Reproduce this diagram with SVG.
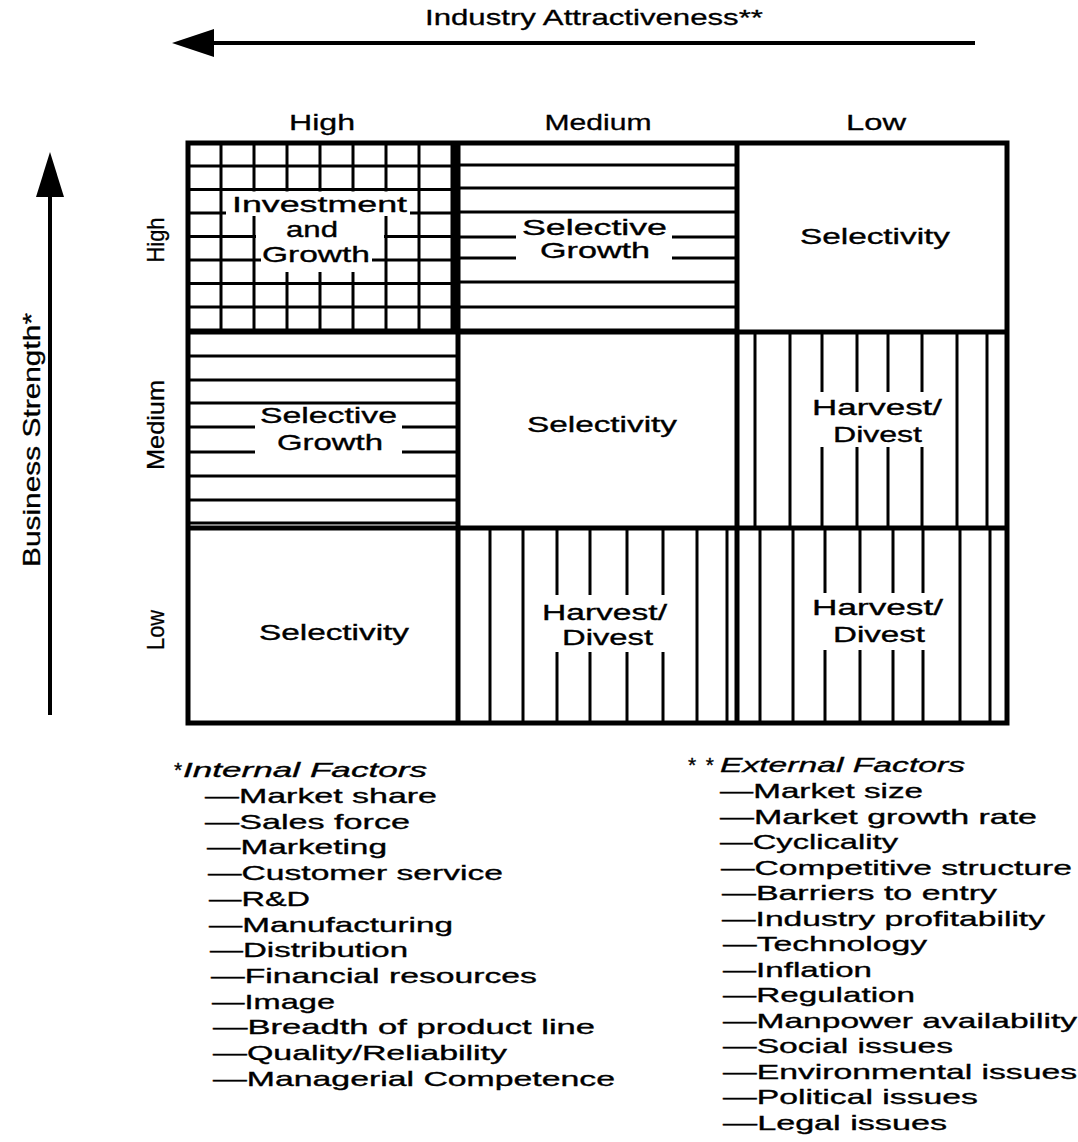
<svg xmlns="http://www.w3.org/2000/svg" width="1078" height="1142" viewBox="0 0 1078 1142">
<defs>
<style>
text{font-family:"Liberation Sans",Arial,Helvetica,sans-serif;fill:#000;}
.lbl{font-size:22px;text-anchor:middle;stroke:#000;stroke-width:0.35px;}
.hdr{font-size:22px;text-anchor:middle;stroke:#000;stroke-width:0.3px;}
.rot{font-size:24px;text-anchor:middle;stroke:#000;stroke-width:0.3px;}
.leg{font-size:21px;stroke:#000;stroke-width:0.35px;}
.it{font-style:italic;}
.pat{stroke:#000;stroke-width:3;fill:none;}
.border{stroke:#000;stroke-width:5;fill:none;}
.ko{fill:#fff;stroke:none;}
.axis{stroke:#000;stroke-width:4;fill:none;}
</style>
</defs>
<rect width="1078" height="1142" fill="#fff"/>

<g id="axes">
  <g id="industry-attractiveness-axis">
    <line class="axis" x1="208" y1="43" x2="975" y2="43"/>
    <polygon points="172,43 214,29 214,57" fill="#000"/>
    <text class="hdr" x="594" y="25" textLength="338" lengthAdjust="spacingAndGlyphs">Industry Attractiveness**</text>
  </g>
  <g id="business-strength-axis">
    <line class="axis" x1="50" y1="192" x2="50" y2="715"/>
    <polygon points="50,152 36,197 64,197" fill="#000"/>
    <text class="rot" transform="translate(40,440) rotate(-90)" textLength="254" lengthAdjust="spacingAndGlyphs">Business Strength*</text>
  </g>
  <text class="hdr" x="322" y="130" textLength="66" lengthAdjust="spacingAndGlyphs">High</text>
  <text class="hdr" x="598" y="130" textLength="107" lengthAdjust="spacingAndGlyphs">Medium</text>
  <text class="hdr" x="876" y="130" textLength="60" lengthAdjust="spacingAndGlyphs">Low</text>
  <text class="rot" transform="translate(164,240) rotate(-90)" textLength="45" lengthAdjust="spacingAndGlyphs">High</text>
  <text class="rot" transform="translate(164,425) rotate(-90)" textLength="90" lengthAdjust="spacingAndGlyphs">Medium</text>
  <text class="rot" transform="translate(164,630) rotate(-90)" textLength="40" lengthAdjust="spacingAndGlyphs">Low</text>
</g>

<g id="cell-high-high">
  <path class="pat" d="M221,143V332M254,143V332M287,143V332M320,143V332M353,143V332M386,143V332M419,143V332M452,143V332M188,166H458M188,189.5H458M188,213H458M188,236.5H458M188,260H458M188,283.5H458M188,307H458M188,330H458"/>
  <rect class="ko" x="226" y="191.5" width="184" height="24.5"/>
  <rect class="ko" x="256" y="216" width="128" height="32"/>
  <rect class="ko" x="261" y="248" width="111" height="24"/>
  <text class="lbl" x="319.5" y="212" textLength="175" lengthAdjust="spacingAndGlyphs">Investment</text>
  <text class="lbl" x="312" y="237" textLength="52" lengthAdjust="spacingAndGlyphs">and</text>
  <text class="lbl" x="316" y="262" textLength="108" lengthAdjust="spacingAndGlyphs">Growth</text>
</g>

<g id="cell-medium-high">
  <path class="pat" d="M458,165H737M458,188H737M458,212H737M458,237H737M458,258H737M458,282H737M458,307H737M458,330H737"/>
  <rect class="ko" x="516" y="215" width="156" height="47"/>
  <text class="lbl" x="594.5" y="235" textLength="145" lengthAdjust="spacingAndGlyphs">Selective</text>
  <text class="lbl" x="595" y="258" textLength="110" lengthAdjust="spacingAndGlyphs">Growth</text>
</g>

<g id="cell-low-high">
  <text class="lbl" x="875" y="244" textLength="150" lengthAdjust="spacingAndGlyphs">Selectivity</text>
</g>

<g id="cell-high-medium">
  <path class="pat" d="M188,356H458M188,380H458M188,403H458M188,427H458M188,452H458M188,476H458M188,500H458M188,523H458"/>
  <rect class="ko" x="255" y="405" width="147" height="51"/>
  <text class="lbl" x="328.5" y="423" textLength="137" lengthAdjust="spacingAndGlyphs">Selective</text>
  <text class="lbl" x="330" y="450" textLength="106" lengthAdjust="spacingAndGlyphs">Growth</text>
</g>

<g id="cell-medium-medium">
  <text class="lbl" x="602" y="432" textLength="150" lengthAdjust="spacingAndGlyphs">Selectivity</text>
</g>

<g id="cell-low-medium">
  <path class="pat" d="M755,332V528M790,332V528M822,332V528M857,332V528M888,332V528M922,332V528M957,332V528M987,332V528"/>
  <rect class="ko" x="810" y="392" width="134" height="55"/>
  <text class="lbl" x="877" y="415" textLength="130" lengthAdjust="spacingAndGlyphs">Harvest/</text>
  <text class="lbl" x="877.5" y="442" textLength="89" lengthAdjust="spacingAndGlyphs">Divest</text>
</g>

<g id="cell-high-low">
  <text class="lbl" x="334" y="640" textLength="150" lengthAdjust="spacingAndGlyphs">Selectivity</text>
</g>

<g id="cell-medium-low">
  <path class="pat" d="M490,528V723M523,528V723M557,528V723M590,528V723M627,528V723M663,528V723M697,528V723M727,528V723"/>
  <rect class="ko" x="540" y="595" width="128" height="57"/>
  <text class="lbl" x="604.5" y="620" textLength="125" lengthAdjust="spacingAndGlyphs">Harvest/</text>
  <text class="lbl" x="607.5" y="645" textLength="91" lengthAdjust="spacingAndGlyphs">Divest</text>
</g>

<g id="cell-low-low">
  <path class="pat" d="M760,528V723M793,528V723M825,528V723M860,528V723M893,528V723M923,528V723M960,528V723M990,528V723"/>
  <rect class="ko" x="810" y="593" width="135" height="57"/>
  <text class="lbl" x="877.5" y="615" textLength="131" lengthAdjust="spacingAndGlyphs">Harvest/</text>
  <text class="lbl" x="879" y="642" textLength="92" lengthAdjust="spacingAndGlyphs">Divest</text>
</g>

<g id="grid-borders">
  <rect class="border" x="188" y="143" width="819" height="580"/>
  <line class="border" x1="458" y1="143" x2="458" y2="723"/>
  <line x1="456" y1="143" x2="456" y2="332" stroke="#000" stroke-width="7"/>
  <line class="border" x1="737" y1="143" x2="737" y2="723"/>
  <line class="border" x1="188" y1="332" x2="1007" y2="332"/>
  <line class="border" x1="188" y1="528" x2="1007" y2="528"/>
</g>

<g id="internal-factors">
  <text class="leg" y="777"><tspan x="174">*</tspan><tspan class="it" x="183" textLength="244" lengthAdjust="spacingAndGlyphs">Internal Factors</tspan></text>
  <text class="leg" x="205" y="803" textLength="232" lengthAdjust="spacingAndGlyphs">—Market share</text>
  <text class="leg" x="205" y="828.7" textLength="205" lengthAdjust="spacingAndGlyphs">—Sales force</text>
  <text class="leg" x="207" y="854.4" textLength="180" lengthAdjust="spacingAndGlyphs">—Marketing</text>
  <text class="leg" x="208" y="880.1" textLength="295" lengthAdjust="spacingAndGlyphs">—Customer service</text>
  <text class="leg" x="209" y="905.8" textLength="101" lengthAdjust="spacingAndGlyphs">—R&amp;D</text>
  <text class="leg" x="209" y="931.5" textLength="244" lengthAdjust="spacingAndGlyphs">—Manufacturing</text>
  <text class="leg" x="210" y="957.2" textLength="198" lengthAdjust="spacingAndGlyphs">—Distribution</text>
  <text class="leg" x="211" y="982.9" textLength="326" lengthAdjust="spacingAndGlyphs">—Financial resources</text>
  <text class="leg" x="212" y="1008.6" textLength="123" lengthAdjust="spacingAndGlyphs">—Image</text>
  <text class="leg" x="213" y="1034.3" textLength="382" lengthAdjust="spacingAndGlyphs">—Breadth of product line</text>
  <text class="leg" x="213" y="1060" textLength="294" lengthAdjust="spacingAndGlyphs">—Quality/Reliability</text>
  <text class="leg" x="213" y="1085.7" textLength="402" lengthAdjust="spacingAndGlyphs">—Managerial Competence</text>
</g>

<g id="external-factors">
  <text class="leg" y="772"><tspan x="688" textLength="26" lengthAdjust="spacing">**</tspan><tspan class="it" x="720" textLength="245" lengthAdjust="spacingAndGlyphs">External Factors</tspan></text>
  <text class="leg" x="720" y="798" textLength="203" lengthAdjust="spacingAndGlyphs">—Market size</text>
  <text class="leg" x="720" y="823.5" textLength="317" lengthAdjust="spacingAndGlyphs">—Market growth rate</text>
  <text class="leg" x="720" y="849" textLength="178" lengthAdjust="spacingAndGlyphs">—Cyclicality</text>
  <text class="leg" x="721" y="874.5" textLength="351" lengthAdjust="spacingAndGlyphs">—Competitive structure</text>
  <text class="leg" x="722" y="900" textLength="275" lengthAdjust="spacingAndGlyphs">—Barriers to entry</text>
  <text class="leg" x="722" y="925.5" textLength="323" lengthAdjust="spacingAndGlyphs">—Industry profitability</text>
  <text class="leg" x="723" y="951" textLength="204" lengthAdjust="spacingAndGlyphs">—Technology</text>
  <text class="leg" x="723" y="976.5" textLength="149" lengthAdjust="spacingAndGlyphs">—Inflation</text>
  <text class="leg" x="723" y="1002" textLength="192" lengthAdjust="spacingAndGlyphs">—Regulation</text>
  <text class="leg" x="723" y="1027.5" textLength="354" lengthAdjust="spacingAndGlyphs">—Manpower availability</text>
  <text class="leg" x="723" y="1053" textLength="230" lengthAdjust="spacingAndGlyphs">—Social issues</text>
  <text class="leg" x="723" y="1078.5" textLength="354" lengthAdjust="spacingAndGlyphs">—Environmental issues</text>
  <text class="leg" x="723" y="1104" textLength="255" lengthAdjust="spacingAndGlyphs">—Political issues</text>
  <text class="leg" x="723" y="1129.5" textLength="224" lengthAdjust="spacingAndGlyphs">—Legal issues</text>
</g>
</svg>
